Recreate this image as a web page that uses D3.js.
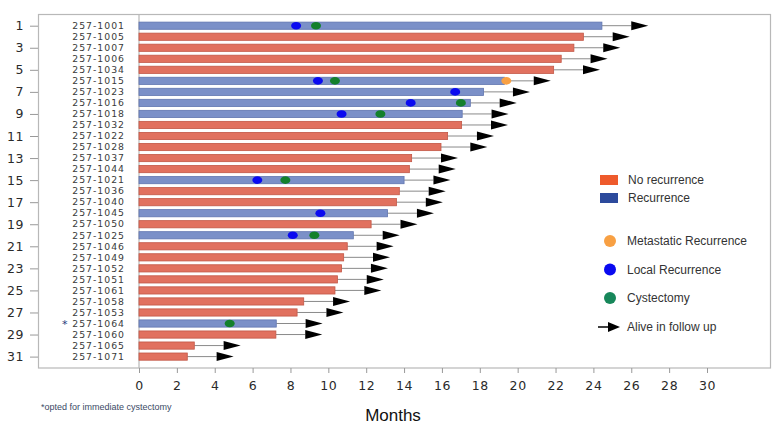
<!DOCTYPE html>
<html>
<head>
<meta charset="utf-8">
<script src="https://cdn.jsdelivr.net/npm/d3@7"></script>
<style>
  body { margin: 0; background: #fff; }
  svg { display: block; }
</style>
</head>
<body>
<svg id="chart" width="779" height="429"></svg>
<script>
// patient ids, top to bottom
const patients = ["257-1001","257-1005","257-1007","257-1006","257-1034","257-1015","257-1023","257-1016","257-1018","257-1032",
  "257-1022","257-1028","257-1037","257-1044","257-1021","257-1036","257-1040","257-1045","257-1050","257-1025",
  "257-1046","257-1049","257-1052","257-1051","257-1061","257-1058","257-1053","257-1064","257-1060","257-1065","257-1071"];
// follow up length in months
const months = [24.45, 23.47, 22.97, 22.3, 21.9, 19.3, 18.2, 17.5, 17.07, 17.04,
  16.3, 15.95, 14.4, 14.28, 14.0, 13.75, 13.6, 13.13, 12.26, 11.32,
  11.0, 10.81, 10.7, 10.48, 10.35, 8.7, 8.35, 7.25, 7.23, 2.92, 2.55];
// 1 = recurrence, 0 = no recurrence
const recurrence = [1,0,0,0,0,1,1,1,1,0, 0,0,0,0,1,0,0,1,0,1, 0,0,0,0,0,0,0,1,0,0,0];
// events: [row, month]
const localRec = [[1, 8.3], [6, 9.45], [7, 16.7], [8, 14.35], [9, 10.7], [15, 6.25], [18, 9.58], [20, 8.12]];
const cystectomy = [[1, 9.35], [6, 10.35], [8, 17.0], [9, 12.75], [15, 7.73], [20, 9.26], [28, 4.79]];
const metastatic = [[6, 19.4]];
const starred = [28];
const xTicks = d3.range(0, 31, 2);
const rowTicks = d3.range(1, 32, 2);

const legendBars = [["No recurrence", "#ee5a2c"], ["Recurrence", "#2c4a9c"]];
const legendDots = [["Metastatic Recurrence", "#f8a043"], ["Local Recurrence", "#0a0af0"], ["Cystectomy", "#17875a"]];

const svg = d3.select("#chart");

const x = d3.scaleLinear().domain([0, 30]).range([139, 707]);
const y = d3.scaleLinear().domain([1, 31]).range([25.7, 356.6]);

// frame
svg.append("rect")
  .attr("x", 38.5).attr("y", 14.5)
  .attr("width", 732).attr("height", 353.5)
  .attr("fill", "none").attr("stroke", "#b8b8b8").attr("stroke-width", 1.2);

svg.append("line")
  .attr("x1", x(0)).attr("x2", x(0))
  .attr("y1", 14.5).attr("y2", 368)
  .attr("stroke", "#b8b8b8").attr("stroke-width", 1.2);

// x axis below frame
const xAxis = svg.append("g")
  .attr("transform", "translate(0,368)")
  .call(d3.axisBottom(x).tickValues(xTicks).tickSize(5).tickPadding(8).tickFormat(d3.format("d")));
xAxis.select(".domain").remove();
xAxis.selectAll("line").attr("stroke", "#999");
xAxis.selectAll("text")
  .attr("font-family", "DejaVu Sans, sans-serif")
  .attr("font-size", 12.5)
  .attr("letter-spacing", 0.6)
  .attr("fill", "#2a2a2a");

// row number axis on the left of frame
const yAxis = svg.append("g")
  .attr("transform", "translate(38,0)")
  .call(d3.axisLeft(y).tickValues(rowTicks).tickSize(8).tickPadding(6).tickFormat(d3.format("d")));
yAxis.select(".domain").remove();
yAxis.selectAll("line").attr("stroke", "#999");
yAxis.selectAll("text")
  .attr("font-family", "DejaVu Sans, sans-serif")
  .attr("font-size", 12.5)
  .attr("letter-spacing", 0.6)
  .attr("fill", "#2a2a2a");

// patient id labels
const rows = patients.map((p, i) => ({ id: p, row: i + 1, end: months[i], rec: recurrence[i] }));

svg.append("g").selectAll("text")
  .data(rows)
  .join("text")
  .attr("x", 125)
  .attr("y", d => y(d.row))
  .attr("dy", "0.35em")
  .attr("text-anchor", "end")
  .attr("font-family", "DejaVu Sans, sans-serif")
  .attr("font-size", 9.3)
  .attr("letter-spacing", 1.0)
  .attr("fill", "#3a3a3a")
  .text(d => d.id);

svg.append("g").selectAll("text")
  .data(starred)
  .join("text")
  .attr("x", 62)
  .attr("y", d => y(d) + 4.5)
  .attr("font-family", "DejaVu Sans, sans-serif")
  .attr("font-size", 11)
  .attr("fill", "#1f3a7a")
  .text("*");

// follow-up lines and arrows
const arrowGap = 1.55, arrowTip = 2.45;
svg.append("g").selectAll("line")
  .data(rows)
  .join("line")
  .attr("x1", d => x(d.end))
  .attr("x2", d => x(d.end + arrowGap))
  .attr("y1", d => y(d.row)).attr("y2", d => y(d.row))
  .attr("stroke", "#8a8a8a").attr("stroke-width", 1);

svg.append("g").selectAll("path")
  .data(rows)
  .join("path")
  .attr("d", d => {
    const x0 = x(d.end + arrowGap), x1 = x(d.end + arrowTip), yc = y(d.row);
    return `M${x0},${yc - 4.5}L${x1},${yc}L${x0},${yc + 4.5}Z`;
  })
  .attr("fill", "#000");

// bars
svg.append("g").selectAll("rect")
  .data(rows)
  .join("rect")
  .attr("x", x(0))
  .attr("y", d => y(d.row) - 3.6)
  .attr("width", d => x(d.end) - x(0))
  .attr("height", 7.2)
  .attr("fill", d => d.rec ? "#7b90c8" : "#e1715f")
  .attr("stroke", d => d.rec ? "#6075b0" : "#c25746")
  .attr("stroke-width", 0.8);

// event dots
function drawDots(list, color) {
  svg.append("g").selectAll("ellipse")
    .data(list)
    .join("ellipse")
    .attr("cx", d => x(d[1]))
    .attr("cy", d => y(d[0]))
    .attr("rx", 5)
    .attr("ry", 3.8)
    .attr("fill", color);
}
drawDots(localRec, "#0a0af0");
drawDots(cystectomy, "#13802c");
drawDots(metastatic, "#f8a043");

// legend
const lg = svg.append("g").attr("font-family", "Liberation Sans, Arial, sans-serif").attr("font-size", 12).attr("fill", "#333");
lg.selectAll("rect")
  .data(legendBars)
  .join("rect")
  .attr("x", 600)
  .attr("y", (d, i) => 175 + i * 18)
  .attr("width", 18).attr("height", 10)
  .attr("fill", d => d[1]);
lg.selectAll("text.bar")
  .data(legendBars)
  .join("text")
  .attr("class", "bar")
  .attr("x", 628)
  .attr("y", (d, i) => 184 + i * 18)
  .text(d => d[0]);

lg.selectAll("circle")
  .data(legendDots)
  .join("circle")
  .attr("cx", 610)
  .attr("cy", (d, i) => 241 + i * 28.5)
  .attr("r", 6)
  .attr("fill", d => d[1]);
lg.selectAll("text.dot")
  .data(legendDots)
  .join("text")
  .attr("class", "dot")
  .attr("x", 627)
  .attr("y", (d, i) => 245 + i * 28.5)
  .text(d => d[0]);

lg.append("line")
  .attr("x1", 598).attr("x2", 610).attr("y1", 327).attr("y2", 327)
  .attr("stroke", "#000").attr("stroke-width", 1.5);
lg.append("path")
  .attr("d", "M608,322L620,327L608,332Z")
  .attr("fill", "#000");
lg.append("text")
  .attr("x", 627).attr("y", 331)
  .text("Alive in follow up");

// footnote and axis title
svg.append("text")
  .attr("x", 41).attr("y", 410)
  .attr("font-family", "Liberation Sans, Arial, sans-serif")
  .attr("font-size", 9)
  .attr("fill", "#3b4a66")
  .text("*opted for immediate cystectomy");

svg.append("text")
  .attr("x", 393).attr("y", 421)
  .attr("text-anchor", "middle")
  .attr("font-family", "Liberation Sans, Arial, sans-serif")
  .attr("font-size", 17)
  .attr("fill", "#111")
  .text("Months");
</script>
</body>
</html>
